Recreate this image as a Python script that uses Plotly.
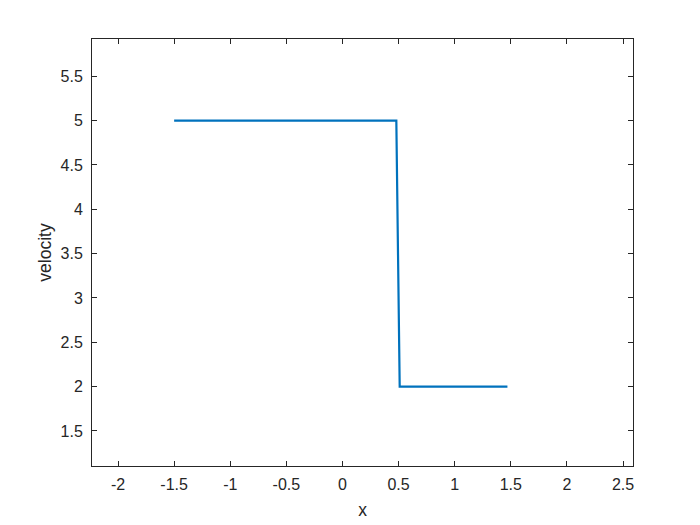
import plotly.graph_objects as go

x_vals = [-1.5, 0.48, 0.51, 1.47]
velocity = [5, 5, 2, 2]
x_ticks = [-2, -1.5, -1, -0.5, 0, 0.5, 1, 1.5, 2, 2.5]
x_tick_text = ["-2", "-1.5", "-1", "-0.5", "0", "0.5", "1", "1.5", "2", "2.5"]
y_ticks = [1.5, 2, 2.5, 3, 3.5, 4, 4.5, 5, 5.5]
y_tick_text = ["1.5", "2", "2.5", "3", "3.5", "4", "4.5", "5", "5.5"]

fig = go.Figure()
fig.add_trace(go.Scatter(x=x_vals, y=velocity, mode="lines",
                         line=dict(color="#0072BD", width=2.2), showlegend=False))

axis_common = dict(showline=True, linecolor="#262626", linewidth=1, mirror="ticks",
                   ticks="inside", ticklen=5, tickcolor="#262626", showgrid=False,
                   zeroline=False, tickfont=dict(family="Liberation Sans, Arial", size=16, color="#262626"),
                   title_font=dict(family="Liberation Sans, Arial", size=17.5, color="#262626"))

fig.update_xaxes(range=[-2.232, 2.589], tickvals=x_ticks, ticktext=x_tick_text,
                 title_text="x", title_standoff=11, ticklabelstandoff=4, **axis_common)
fig.update_yaxes(range=[1.105, 5.92], tickvals=y_ticks, ticktext=y_tick_text,
                 title_text="velocity", title_standoff=4, ticklabelstandoff=5, **axis_common)

fig.update_layout(width=692, height=517, plot_bgcolor="white", paper_bgcolor="white",
                  margin=dict(l=84, r=67, t=31, b=59, autoexpand=False))

fig.write_html("out.html")
